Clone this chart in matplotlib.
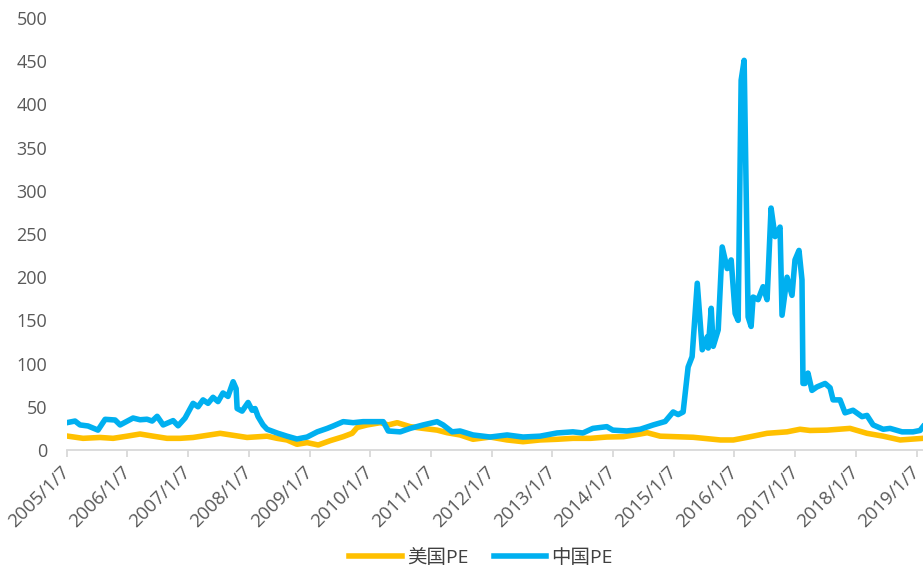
import matplotlib
matplotlib.use('Agg')
from matplotlib import pyplot as plt
import numpy as np
import pandas as pd

plt.rcParams['font.family'] = ['Open Sans', 'Noto Sans CJK SC', 'DejaVu Sans']

# 中国PE
cn_dates = ['2005-01-07', '2005-02-26', '2005-03-28', '2005-05-15', '2005-07-14', '2005-08-26',
            '2005-10-25', '2005-11-24', '2006-02-10', '2006-03-24', '2006-05-05', '2006-06-05',
            '2006-07-05', '2006-08-10', '2006-10-09', '2006-11-08', '2006-12-20', '2007-02-06',
            '2007-03-08', '2007-04-07', '2007-05-07', '2007-06-06', '2007-07-06', '2007-08-05',
            '2007-09-04', '2007-10-05', '2007-10-23', '2007-10-29', '2007-11-28', '2008-01-03',
            '2008-01-27', '2008-02-14', '2008-03-03', '2008-04-02', '2008-04-26', '2008-06-25',
            '2008-08-24', '2008-10-23', '2008-12-23', '2009-02-22', '2009-04-23', '2009-05-29',
            '2009-07-28', '2009-09-26', '2009-11-25', '2010-01-25', '2010-03-26', '2010-04-25',
            '2010-07-06', '2010-09-04', '2010-11-21', '2011-02-13', '2011-03-21', '2011-05-14',
            '2011-07-01', '2011-09-17', '2011-12-29', '2012-04-09', '2012-07-14', '2012-10-24',
            '2013-02-03', '2013-05-10', '2013-07-09', '2013-09-07', '2013-11-30', '2014-01-05',
            '2014-03-30', '2014-06-19', '2014-09-05', '2014-11-16', '2015-01-03', '2015-02-02',
            '2015-03-04', '2015-04-03', '2015-04-27', '2015-05-28', '2015-06-27', '2015-07-27',
            '2015-08-02', '2015-08-20', '2015-09-01', '2015-10-01', '2015-10-25', '2015-11-24',
            '2015-12-18', '2016-01-11', '2016-01-29', '2016-02-16', '2016-03-05', '2016-03-29',
            '2016-04-16', '2016-04-28', '2016-05-28', '2016-06-27', '2016-07-21', '2016-08-14',
            '2016-09-07', '2016-10-07', '2016-10-19', '2016-11-18', '2016-12-18', '2017-01-05',
            '2017-01-29', '2017-02-16', '2017-02-22', '2017-03-06', '2017-03-24', '2017-04-17',
            '2017-05-17', '2017-07-05', '2017-08-04', '2017-08-22', '2017-10-03', '2017-11-02',
            '2017-12-20', '2018-02-12', '2018-03-14', '2018-04-20', '2018-06-19', '2018-07-31',
            '2018-10-11', '2018-12-16', '2019-01-27', '2019-02-14']
cn_pe = [31.6, 33.5, 29, 27.8, 23, 35.5,
         34.7, 29, 37, 35, 35.6, 33.5,
         39, 29, 34, 28, 37, 54,
         50, 58, 54, 61, 56, 66,
         62, 79, 71, 48, 45, 55,
         46, 48, 38.6, 29, 24, 19.7,
         16, 12.7, 15, 21, 25, 27.8,
         32.8, 31.6, 32.8, 32.8, 32.8, 22,
         21, 25, 29, 32.8, 29, 21,
         22, 17.4, 15, 17.4, 15, 16,
         19.7, 21, 19.7, 25, 27, 23,
         22, 24, 29, 33, 44, 41,
         44, 96, 108, 193, 116, 131,
         118, 164, 120, 139, 235, 210,
         220, 158, 150, 428, 451, 154,
         143, 177, 174, 189, 174, 280,
         247, 258, 156, 200, 179, 220,
         231, 197, 77, 77, 89, 69,
         73, 77, 72, 58, 58, 43,
         46, 38.6, 40, 29, 24, 25,
         21, 21, 22.6, 27]

# 美国PE
us_dates = ['2005-01-07', '2005-04-15', '2005-07-26', '2005-10-13', '2006-01-05', '2006-03-24',
            '2006-06-11', '2006-09-02', '2006-11-20', '2007-02-06', '2007-05-02', '2007-07-19',
            '2007-10-05', '2007-12-28', '2008-04-26', '2008-06-25', '2008-08-24', '2008-10-23',
            '2008-12-23', '2009-02-28', '2009-05-11', '2009-07-28', '2009-09-20', '2009-10-20',
            '2009-12-19', '2010-03-08', '2010-04-25', '2010-06-18', '2010-09-04', '2010-11-21',
            '2011-02-13', '2011-04-14', '2011-07-01', '2011-09-17', '2011-12-29', '2012-04-09',
            '2012-07-14', '2012-10-24', '2013-02-03', '2013-05-10', '2013-08-24', '2013-11-30',
            '2014-03-10', '2014-06-19', '2014-07-31', '2014-10-17', '2015-05-04', '2015-10-14',
            '2015-12-31', '2016-03-25', '2016-07-21', '2016-11-18', '2017-02-04', '2017-04-05',
            '2017-07-17', '2017-12-02', '2018-03-14', '2018-06-19', '2018-09-30', '2019-02-14']
us_pe = [16.2, 13.5, 14.5, 13.5, 16, 18.5,
         16, 13.5, 13.5, 14.5, 17, 19.3,
         17, 14.5, 16, 13.5, 11.6, 6.6,
         8.5, 5.8, 10.8, 15.4, 19.3, 26,
         29, 31.6, 29, 31.6, 27, 25,
         23, 20, 17.4, 12.4, 15, 11.6,
         9.6, 11.6, 12.4, 13.5, 13.5, 15,
         15.4, 18.5, 20, 16, 14.7, 11.6,
         11.6, 14.7, 19.3, 21, 24, 22.6,
         23, 25, 19.3, 16, 11.6, 13.5]

tick_years = list(range(2005, 2020))
tick_labels = ['%d/1/7' % y for y in tick_years]

cn_x = pd.to_datetime(cn_dates)
us_x = pd.to_datetime(us_dates)

fig = plt.figure(figsize=(9.23, 5.72), dpi=100)
ax = fig.add_axes([0.0723, 0.2133, 0.9277, 0.7552])

ax.plot(us_x, us_pe, color='#FFC000', lw=4, label='美国PE', solid_joinstyle='round')
ax.plot(cn_x, cn_pe, color='#00B0F0', lw=4, label='中国PE', solid_joinstyle='round')

ax.set_ylim(0, 500)
ax.set_yticks(np.arange(0, 501, 50))
ax.set_xlim(cn_x[0], cn_x[-1])
ax.set_xticks(pd.to_datetime(['%d-01-07' % y for y in tick_years]))
ax.set_xticklabels(tick_labels, rotation=45, ha='right', va='center', rotation_mode='anchor')

for s in ['top', 'right', 'left']:
    ax.spines[s].set_visible(False)
ax.spines['bottom'].set_color('#D9D9D9')
ax.spines['bottom'].set_linewidth(1.3)
ax.tick_params(axis='y', length=0, labelsize=13, colors='#595959', pad=14)
ax.tick_params(axis='x', length=5, width=1.3, color='#D9D9D9', labelsize=13.5,
               labelcolor='#595959', pad=9)

fig.legend(loc='center', bbox_to_anchor=(0.521, 0.024), ncol=2, frameon=False,
           fontsize=14, handlelength=2.7, handletextpad=0.25, columnspacing=1.3,
           labelcolor='#404040')

plt.savefig('out.png', dpi=100)
